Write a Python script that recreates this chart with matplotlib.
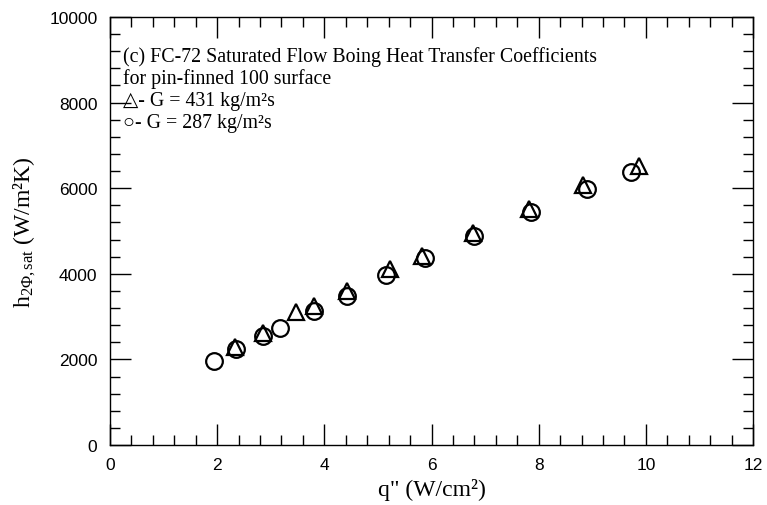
import matplotlib
matplotlib.use("Agg")
import matplotlib.pyplot as plt
from matplotlib.ticker import MultipleLocator

plt.rcParams['mathtext.fontset'] = 'custom'
plt.rcParams['mathtext.rm'] = 'Liberation Serif'
plt.rcParams['mathtext.it'] = 'Liberation Serif:italic'

# Heat flux q" (W/cm^2) and heat transfer coefficient (W/m^2K)
q_431 = [2.33, 2.86, 3.48, 3.81, 4.42, 5.22, 5.83, 6.78, 7.82, 8.82, 9.88]
h_431 = [2290, 2610, 3100, 3250, 3600, 4110, 4420, 4950, 5510, 6070, 6520]

q_287 = [1.94, 2.36, 2.86, 3.18, 3.81, 4.42, 5.16, 5.87, 6.80, 7.85, 8.90, 9.72]
h_287 = [1960, 2240, 2550, 2730, 3140, 3490, 3980, 4360, 4880, 5440, 5980, 6390]

x_ticks = [0, 2, 4, 6, 8, 10, 12]
y_ticks = [0, 2000, 4000, 6000, 8000, 10000]

serif = ['Liberation Serif', 'DejaVu Sans']
sans = 'Liberation Sans'

fig = plt.figure(figsize=(7.67, 5.06), dpi=100)
ax = fig.add_axes([110/767, 1-446/506, (753-110)/767, (446-18)/506])

ax.plot(q_431, h_431, linestyle='none', marker='^', markersize=12,
        markerfacecolor='none', markeredgecolor='black', markeredgewidth=1.6)
ax.plot(q_287, h_287, linestyle='none', marker='o', markersize=12,
        markerfacecolor='none', markeredgecolor='black', markeredgewidth=1.6)

ax.set_xlim(0, 12)
ax.set_ylim(0, 10000)
ax.set_xticks(x_ticks)
ax.set_yticks(y_ticks)
ax.xaxis.set_minor_locator(MultipleLocator(0.4))
ax.yaxis.set_minor_locator(MultipleLocator(400))
ax.tick_params(which='both', direction='in', top=True, right=True,
               width=1.0, color='black', labelsize=12.5)
ax.tick_params(which='major', length=15)
ax.tick_params(axis='x', which='major', pad=9)
ax.tick_params(axis='y', which='major', pad=9)
ax.tick_params(which='minor', length=7.5)
for lab in ax.get_xticklabels() + ax.get_yticklabels():
    lab.set_family(sans)
for s in ax.spines.values():
    s.set_linewidth(1.0)

ax.set_xlabel('q" (W/cm²)', family=serif, fontsize=17, labelpad=4)
ax.set_ylabel(r'h$_{\mathrm{2Φ,sat}}$ (W/m²K)', family=serif, fontsize=17, labelpad=8)

lines = [
    '(c) FC-72 Saturated Flow Boing Heat Transfer Coefficients',
    'for pin-finned 100 surface',
    '△- G = 431 kg/m²s',
    '○- G = 287 kg/m²s',
]
y0 = 57
for i, t in enumerate(lines):
    fig.text(123/767, 1 - (y0 + 22.3*i)/506, t, family=serif, fontsize=14.3,
             va='center', ha='left')

fig.savefig('out.png', dpi=100)
